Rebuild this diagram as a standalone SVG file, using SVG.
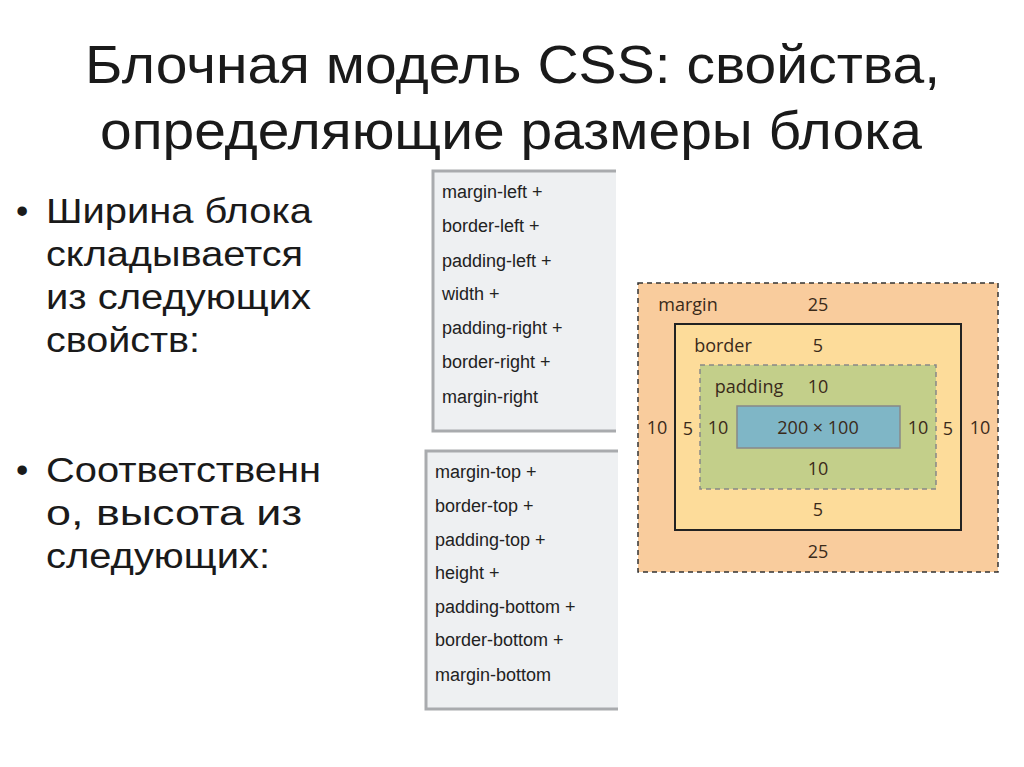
<svg xmlns="http://www.w3.org/2000/svg" width="1024" height="767" viewBox="0 0 1024 767">
<style>
.t{font-family:"Liberation Sans",Arial,sans-serif;fill:#1a1a1a}
.p{font-family:"Liberation Sans",Arial,sans-serif;font-size:18px;fill:#222}
.b{font-family:"Open Sans","DejaVu Sans",sans-serif;font-size:18px;fill:#3a2a1a;text-anchor:middle}
.panel{fill:#eef0f2;stroke:#a9abae;stroke-width:3}
</style>
<rect width="1024" height="767" fill="#fff"/>
<g id="title" class="t" font-size="54">
<text x="85" y="83" textLength="855" lengthAdjust="spacingAndGlyphs">Блочная модель CSS: свойства,</text>
<text x="100" y="149" textLength="822" lengthAdjust="spacingAndGlyphs">определяющие размеры блока</text>
</g>
<g id="bullets" class="t" font-size="35">
<text x="16" y="223">•</text><text x="46" y="223" textLength="266" lengthAdjust="spacingAndGlyphs">Ширина блока</text>
<text x="46" y="266" textLength="257" lengthAdjust="spacingAndGlyphs">складывается</text>
<text x="46" y="309" textLength="265" lengthAdjust="spacingAndGlyphs">из следующих</text>
<text x="46" y="352" textLength="154" lengthAdjust="spacingAndGlyphs">свойств:</text>
<text x="16" y="482">•</text><text x="46" y="482" textLength="275" lengthAdjust="spacingAndGlyphs">Соответственн</text>
<text x="46" y="525" textLength="256" lengthAdjust="spacingAndGlyphs">о, высота из</text>
<text x="46" y="568" textLength="224" lengthAdjust="spacingAndGlyphs">следующих:</text>
</g>
<g id="width-panel">
<rect class="panel" x="433" y="171" width="190" height="260"/>
<rect x="616" y="168" width="10" height="266" fill="#fff"/>
<text class="p" x="442" y="198">margin-left +</text>
<text class="p" x="442" y="232">border-left +</text>
<text class="p" x="442" y="267">padding-left +</text>
<text class="p" x="442" y="300">width +</text>
<text class="p" x="442" y="334">padding-right +</text>
<text class="p" x="442" y="368">border-right +</text>
<text class="p" x="442" y="403">margin-right</text>
</g>
<g id="height-panel">
<rect class="panel" x="426" y="451" width="200" height="258"/>
<rect x="618" y="448" width="10" height="264" fill="#fff"/>
<text class="p" x="435" y="478">margin-top +</text>
<text class="p" x="435" y="512">border-top +</text>
<text class="p" x="435" y="546">padding-top +</text>
<text class="p" x="435" y="579">height +</text>
<text class="p" x="435" y="613">padding-bottom +</text>
<text class="p" x="435" y="646">border-bottom +</text>
<text class="p" x="435" y="681">margin-bottom</text>
</g>
<g id="boxmodel">
<rect x="638" y="283" width="360" height="289" fill="#f9cc9d" stroke="#333" stroke-width="1.5" stroke-dasharray="5,4"/>
<rect x="675" y="324" width="286" height="206" fill="#fddc9a" stroke="#222" stroke-width="2"/>
<rect x="700" y="365" width="236" height="124" fill="#c3cf8a" stroke="#888" stroke-width="1.5" stroke-dasharray="5,4"/>
<rect x="737" y="406" width="163" height="42" fill="#7fb6c6" stroke="#888" stroke-width="1.5"/>
<text class="b" x="688" y="311">margin</text>
<text class="b" x="818" y="311">25</text>
<text class="b" x="723" y="352">border</text>
<text class="b" x="818" y="352" font-size="20">5</text>
<text class="b" x="749" y="393">padding</text>
<text class="b" x="818" y="393">10</text>
<text class="b" x="818" y="434">200 × 100</text>
<text class="b" x="657" y="434">10</text>
<text class="b" x="688" y="435" font-size="20">5</text>
<text class="b" x="718" y="434">10</text>
<text class="b" x="918" y="434">10</text>
<text class="b" x="948" y="435" font-size="20">5</text>
<text class="b" x="980" y="434">10</text>
<text class="b" x="818" y="475">10</text>
<text class="b" x="818" y="516" font-size="20">5</text>
<text class="b" x="818" y="558">25</text>
</g>
<g id="connectors"/>
</svg>
